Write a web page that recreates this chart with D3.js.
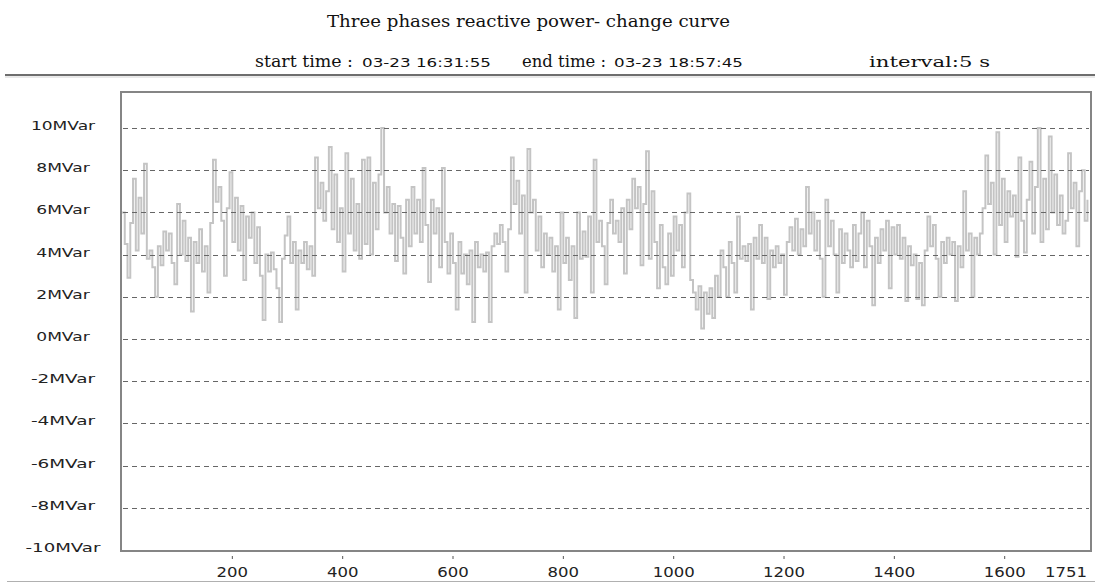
<!DOCTYPE html>
<html><head><meta charset="utf-8">
<script src="https://cdn.jsdelivr.net/npm/d3@7"></script>
<style>body{margin:0;background:#fff}svg{display:block}</style>
</head><body>
<svg id="c" width="1095" height="583"></svg>
<script>
// ---- data ----
const chartTitle = "Three phases reactive power- change curve";
const startLabel = "start time :";
const startTime = "03-23  16:31:55";
const endLabel = "end time :";
const endTime = "03-23  18:57:45";
const intervalText = "interval:5 s";
const sampleStep = 5;       // one stored value every 5 samples
const sampleCount = 1751;
const yTicks = [10, 8, 6, 4, 2, 0, -2, -4, -6, -8, -10];
const xTicks = [200, 400, 600, 800, 1000, 1200, 1400, 1600, 1751];
const seg1 = [6.0,4.5,2.9,5.5,7.6,4.2,6.7,5.0,8.3,3.8,4.2,3.4,
2.0,4.4,3.5,5.1,4.2,5.0,3.6,2.6,6.4,4.0,5.6,3.7,
4.8,1.3,4.6,3.6,5.2,3.2,4.4,2.2,5.5,8.5,6.5,7.2,
5.6,3.0,6.2,7.9,4.6,6.7,4.2,6.3,2.8,5.8,4.8,6.0,
3.6,5.3,3.0,0.9,4.0,3.2,4.1,3.3,2.4,0.8,3.8,4.9,
5.8,3.6,4.6,1.4,4.2,3.6,4.6,3.3,4.4,3.0,8.6,6.2,
7.4,5.6,7.0,9.1,5.2,7.8,4.6,6.2,3.2,8.8,5.0,7.6,4.2,6.4,3.8,8.5,4.5];
const seg2 = [8.6,4.0,7.4,5.2,7.8,10.0,6.0,7.2,5.0,6.4,3.7,6.3,
4.8,3.1,6.6,4.4,7.2,5.0,6.6,4.6,8.1,5.4,2.7,6.6,
5.0,6.2,3.4,8.1,4.6,3.1,5.0,3.6,1.4,4.6,3.1,4.0,
2.6,4.2,0.8,4.6,3.4,4.0,3.2,4.1,0.8,4.4,5.0,4.5,
5.4,4.6,3.2,5.2,8.6,6.4,7.5,5.0,6.8,2.2,9.0,6.0,
6.6,4.2,5.8,3.4,5.0,4.0,4.8,3.2,4.4,1.4,6.0,3.6,
4.8,2.8,4.4,1.0,6.0,3.8,5.1,3.9,5.8,2.2,8.5,4.6,
5.6,4.4,2.6,5.5,6.6];
const seg3 = [5.0,5.6,4.6,6.2,3.1,6.6,5.2,7.6,6.2,7.2,3.5,6.4,
8.9,3.8,7.0,4.6,2.4,5.4,3.4,2.6,5.0,3.0,5.8,4.2,
5.4,3.4,6.0,6.9,2.8,2.2,1.4,2.5,0.5,2.2,1.2,2.4,
1.0,3.0,2.0,4.2,3.4,2.0,4.6,3.6,2.2,5.8,3.8,4.4,
3.7,4.5,1.4,4.8,3.8,5.4,3.6,4.8,1.9,4.2,3.4,4.4,
3.6,4.0,2.1,4.6,5.3,4.2,5.7,4.0,5.2,4.4,7.2,5.0,
6.0,4.2,5.6,3.8,2.0,6.6,4.4,5.6,4.0,2.2,5.2,3.6,
5.0,4.2,3.4,5.4,3.7];
const seg4 = [5.0,6.0,3.4,5.6,4.4,1.6,4.8,3.6,5.2,4.2,5.6,2.4,
5.3,4.0,5.4,3.8,4.8,1.8,4.4,3.5,4.0,1.9,3.6,1.6,
4.2,5.8,4.4,5.4,3.8,2.0,4.6,3.6,4.8,4.0,4.6,1.8,
4.4,3.4,7.0,4.2,5.0,2.0,4.8,4.0,5.0,6.2,8.7,6.4,
7.4,4.0,9.8,5.4,7.6,4.6,7.0,5.8,6.8,3.9,8.6,5.6,
4.1,6.6,8.4,5.0,7.2,10.0,4.6,7.6,5.2,9.6,6.0,7.8,
5.4,6.8,5.0,5.6,8.8,6.2,7.4,4.4,7.0,8.0,5.6,6.6];
const values = seg1.concat(seg2, seg3, seg4);
const data = values.map((v, i) => ({x: Math.min(i * sampleStep, sampleCount), v}));

// ---- layout ----
const svg = d3.select("#c");
const box = {l: 121, t: 92, r: 1091, b: 551};
const x = d3.scaleLinear().domain([0, sampleCount]).range([122, 1088]);
const y = d3.scaleLinear().domain([-10, 10]).range([550, 128]);

// header
svg.append("text").attr("x", 327).attr("y", 27)
  .attr("font-family", "DejaVu Serif").attr("font-size", 17).attr("fill", "#111")
  .attr("textLength", 403).attr("lengthAdjust", "spacingAndGlyphs").text(chartTitle);
const sub = (txt, xx, fam, fs, len) => svg.append("text").attr("x", xx).attr("y", 67)
  .attr("font-family", fam).attr("font-size", fs).attr("fill", "#111")
  .attr("textLength", len).attr("lengthAdjust", "spacingAndGlyphs").text(txt);
sub(startLabel, 255, "DejaVu Serif", 16, 98);
sub(startTime, 362, "DejaVu Sans", 13, 129);
sub(endLabel, 522, "DejaVu Serif", 16, 84);
sub(endTime, 614, "DejaVu Sans", 13, 129);
sub(intervalText, 869, "DejaVu Serif", 15, 121);

svg.append("line").attr("x1", 5).attr("x2", 1095).attr("y1", 75).attr("y2", 75)
  .attr("stroke", "#6e6e6e").attr("stroke-width", 2);
svg.append("line").attr("x1", 5).attr("x2", 1095).attr("y1", 77).attr("y2", 77)
  .attr("stroke", "#d4d4d4").attr("stroke-width", 1);
svg.append("line").attr("x1", 7).attr("x2", 1095).attr("y1", 581.5).attr("y2", 581.5)
  .attr("stroke", "#b0b0b0").attr("stroke-width", 1);

// series
svg.append("path").datum(data)
  .attr("d", d3.line().x(d => x(d.x)).y(d => y(d.v)).curve(d3.curveStepAfter))
  .attr("fill", "none").attr("stroke", "#c4c4c4").attr("stroke-width", 2);

// grid
svg.append("g").selectAll("line").data(yTicks.filter(d => d > -10)).join("line")
  .attr("x1", box.l + 2).attr("x2", box.r - 2)
  .attr("y1", d => Math.round(y(d)) + 0.5).attr("y2", d => Math.round(y(d)) + 0.5)
  .attr("stroke", "#666").attr("stroke-width", 1.2).attr("stroke-dasharray", "5,4");

// frame
svg.append("rect").attr("x", box.l).attr("y", box.t).attr("width", box.r - box.l).attr("height", box.b - box.t)
  .attr("fill", "none").attr("stroke", "#858585").attr("stroke-width", 2);

// y labels
svg.append("g").selectAll("text").data(yTicks).join("text")
  .attr("x", 63).attr("y", d => y(d) + 2).attr("text-anchor", "middle")
  .attr("font-family", "DejaVu Sans").attr("font-size", 13).attr("fill", "#222")
  .attr("textLength", d => (String(d).length + 4) * 10.7).attr("lengthAdjust", "spacingAndGlyphs")
  .text(d => d + "MVar");

// x labels + tick dots
const xa = svg.append("g");
xa.selectAll("line").data(xTicks.filter(d => d < sampleCount)).join("line")
  .attr("x1", d => x(d)).attr("x2", d => x(d)).attr("y1", 556).attr("y2", 559)
  .attr("stroke", "#555");
xa.selectAll("text").data(xTicks).join("text")
  .attr("x", d => d === sampleCount ? 1087 : x(d)).attr("y", 577)
  .attr("text-anchor", d => d === sampleCount ? "end" : "middle")
  .attr("font-family", "DejaVu Sans").attr("font-size", 14).attr("fill", "#222")
  .attr("textLength", d => String(d).length * 10.5).attr("lengthAdjust", "spacingAndGlyphs")
  .text(d => d);
</script>
</body></html>
